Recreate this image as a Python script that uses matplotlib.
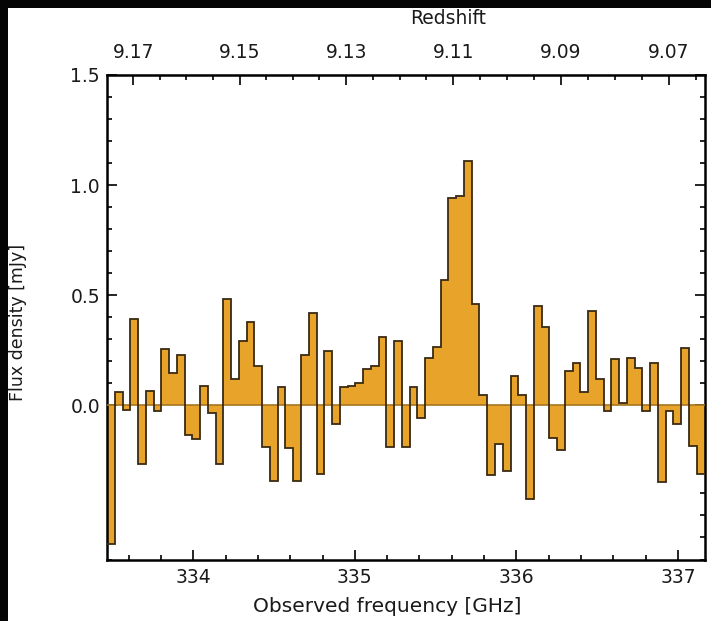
import numpy as np
import matplotlib
matplotlib.use("Agg")
import matplotlib.pyplot as plt
from matplotlib.ticker import MultipleLocator, FixedLocator
from matplotlib.patches import Rectangle

# ---- data ----
freq_start = 333.466   # GHz, first bin edge
freq_stop = 337.164    # GHz, last bin edge
flux = [-0.63, 0.06, -0.02, 0.39, -0.265, 0.065, -0.026, 0.255, 0.145, 0.23,
        -0.136, -0.155, 0.09, -0.033, -0.268, 0.485, 0.118, 0.29, 0.38, 0.18,
        -0.19, -0.344, 0.083, -0.195, -0.344, 0.227, 0.42, -0.31, 0.247, -0.086,
        0.085, 0.09, 0.10, 0.164, 0.18, 0.31, -0.19, 0.29, -0.19, 0.083,
        -0.056, 0.217, 0.265, 0.568, 0.94, 0.95, 1.11, 0.46, 0.045, -0.318,
        -0.175, -0.30, 0.133, 0.045, -0.427, 0.449, 0.356, -0.147, -0.203, 0.156,
        0.19, 0.062, 0.43, 0.12, -0.026, 0.21, 0.01, 0.217, 0.17, -0.026,
        0.194, -0.35, -0.026, -0.086, 0.26, -0.185, -0.31]
nu_rest = 3393.006     # [OIII] 88 micron rest frequency, GHz
z_ticks = [9.17, 9.15, 9.13, 9.11, 9.09, 9.07]
y_ticks = [0.0, 0.5, 1.0, 1.5]
x_ticks = [334, 335, 336, 337]

flux = np.array(flux)
edges = np.linspace(freq_start, freq_stop, len(flux) + 1)

FILL = "#E8A42A"
EDGE = "#3a2a12"
FS = 13.5
TXT = "#1a1a1a"

fig = plt.figure(figsize=(7.11, 6.21), dpi=100, facecolor="#050505")
fig.patches.append(Rectangle((8 / 711, 0), 1, 1 - 8 / 621, transform=fig.transFigure,
                             facecolor="white", edgecolor="none", zorder=-5))

ax = fig.add_axes([107 / 711, 1 - 559.5 / 621, 597.5 / 711, (559.5 - 75) / 621])
ax.set_facecolor("white")

ax.stairs(flux, edges, baseline=0, fill=True, color=FILL, zorder=2)
ax.axhline(0, color="#a8741e", lw=1.2, zorder=3)
ax.stairs(flux, edges, baseline=None, color=EDGE, lw=1.3, zorder=4)

ax.set_xlim(freq_start, freq_stop)
ax.set_ylim(-0.7, 1.5)

ax.xaxis.set_major_locator(FixedLocator(x_ticks))
ax.xaxis.set_minor_locator(MultipleLocator(0.2))
ax.yaxis.set_major_locator(FixedLocator(y_ticks))
ax.yaxis.set_minor_locator(MultipleLocator(0.1))
ax.set_yticklabels([f"{t:.1f}" for t in y_ticks])

ax.tick_params(which="both", direction="in", top=False, right=True, width=1.2,
               labelsize=FS, colors="black", labelcolor=TXT)
ax.tick_params(which="major", length=7)
ax.tick_params(which="minor", length=3.5)
ax.tick_params(axis="x", pad=6)
ax.tick_params(axis="y", pad=5)
for s in ax.spines.values():
    s.set_linewidth(1.8)

def nu2z(nu):
    return nu_rest / np.asarray(nu, dtype=float) - 1

def z2nu(z):
    return nu_rest / (1 + np.asarray(z, dtype=float))

sec = ax.secondary_xaxis("top", functions=(nu2z, z2nu))
sec.xaxis.set_major_locator(FixedLocator(z_ticks))
sec.xaxis.set_minor_locator(MultipleLocator(0.005))
sec.set_xticklabels([f"{t:.2f}" for t in z_ticks])
sec.tick_params(which="both", direction="in", width=1.2, labelsize=FS, pad=9,
                labelcolor=TXT)
sec.tick_params(which="major", length=7)
sec.tick_params(which="minor", length=3.5)

fig.text(448 / 711, 1 - 18 / 621, "Redshift", ha="center", va="center",
         fontsize=FS, color=TXT)
fig.text(387 / 711, 1 - 607 / 621, "Observed frequency [GHz]", ha="center", va="center",
         fontsize=14.5, color=TXT)
fig.text(18 / 711, 1 - 322 / 621, "Flux density [mJy]", ha="center", va="center",
         rotation=90, fontsize=12.5, color=TXT)

fig.savefig("out.png", dpi=100, facecolor=fig.get_facecolor())
